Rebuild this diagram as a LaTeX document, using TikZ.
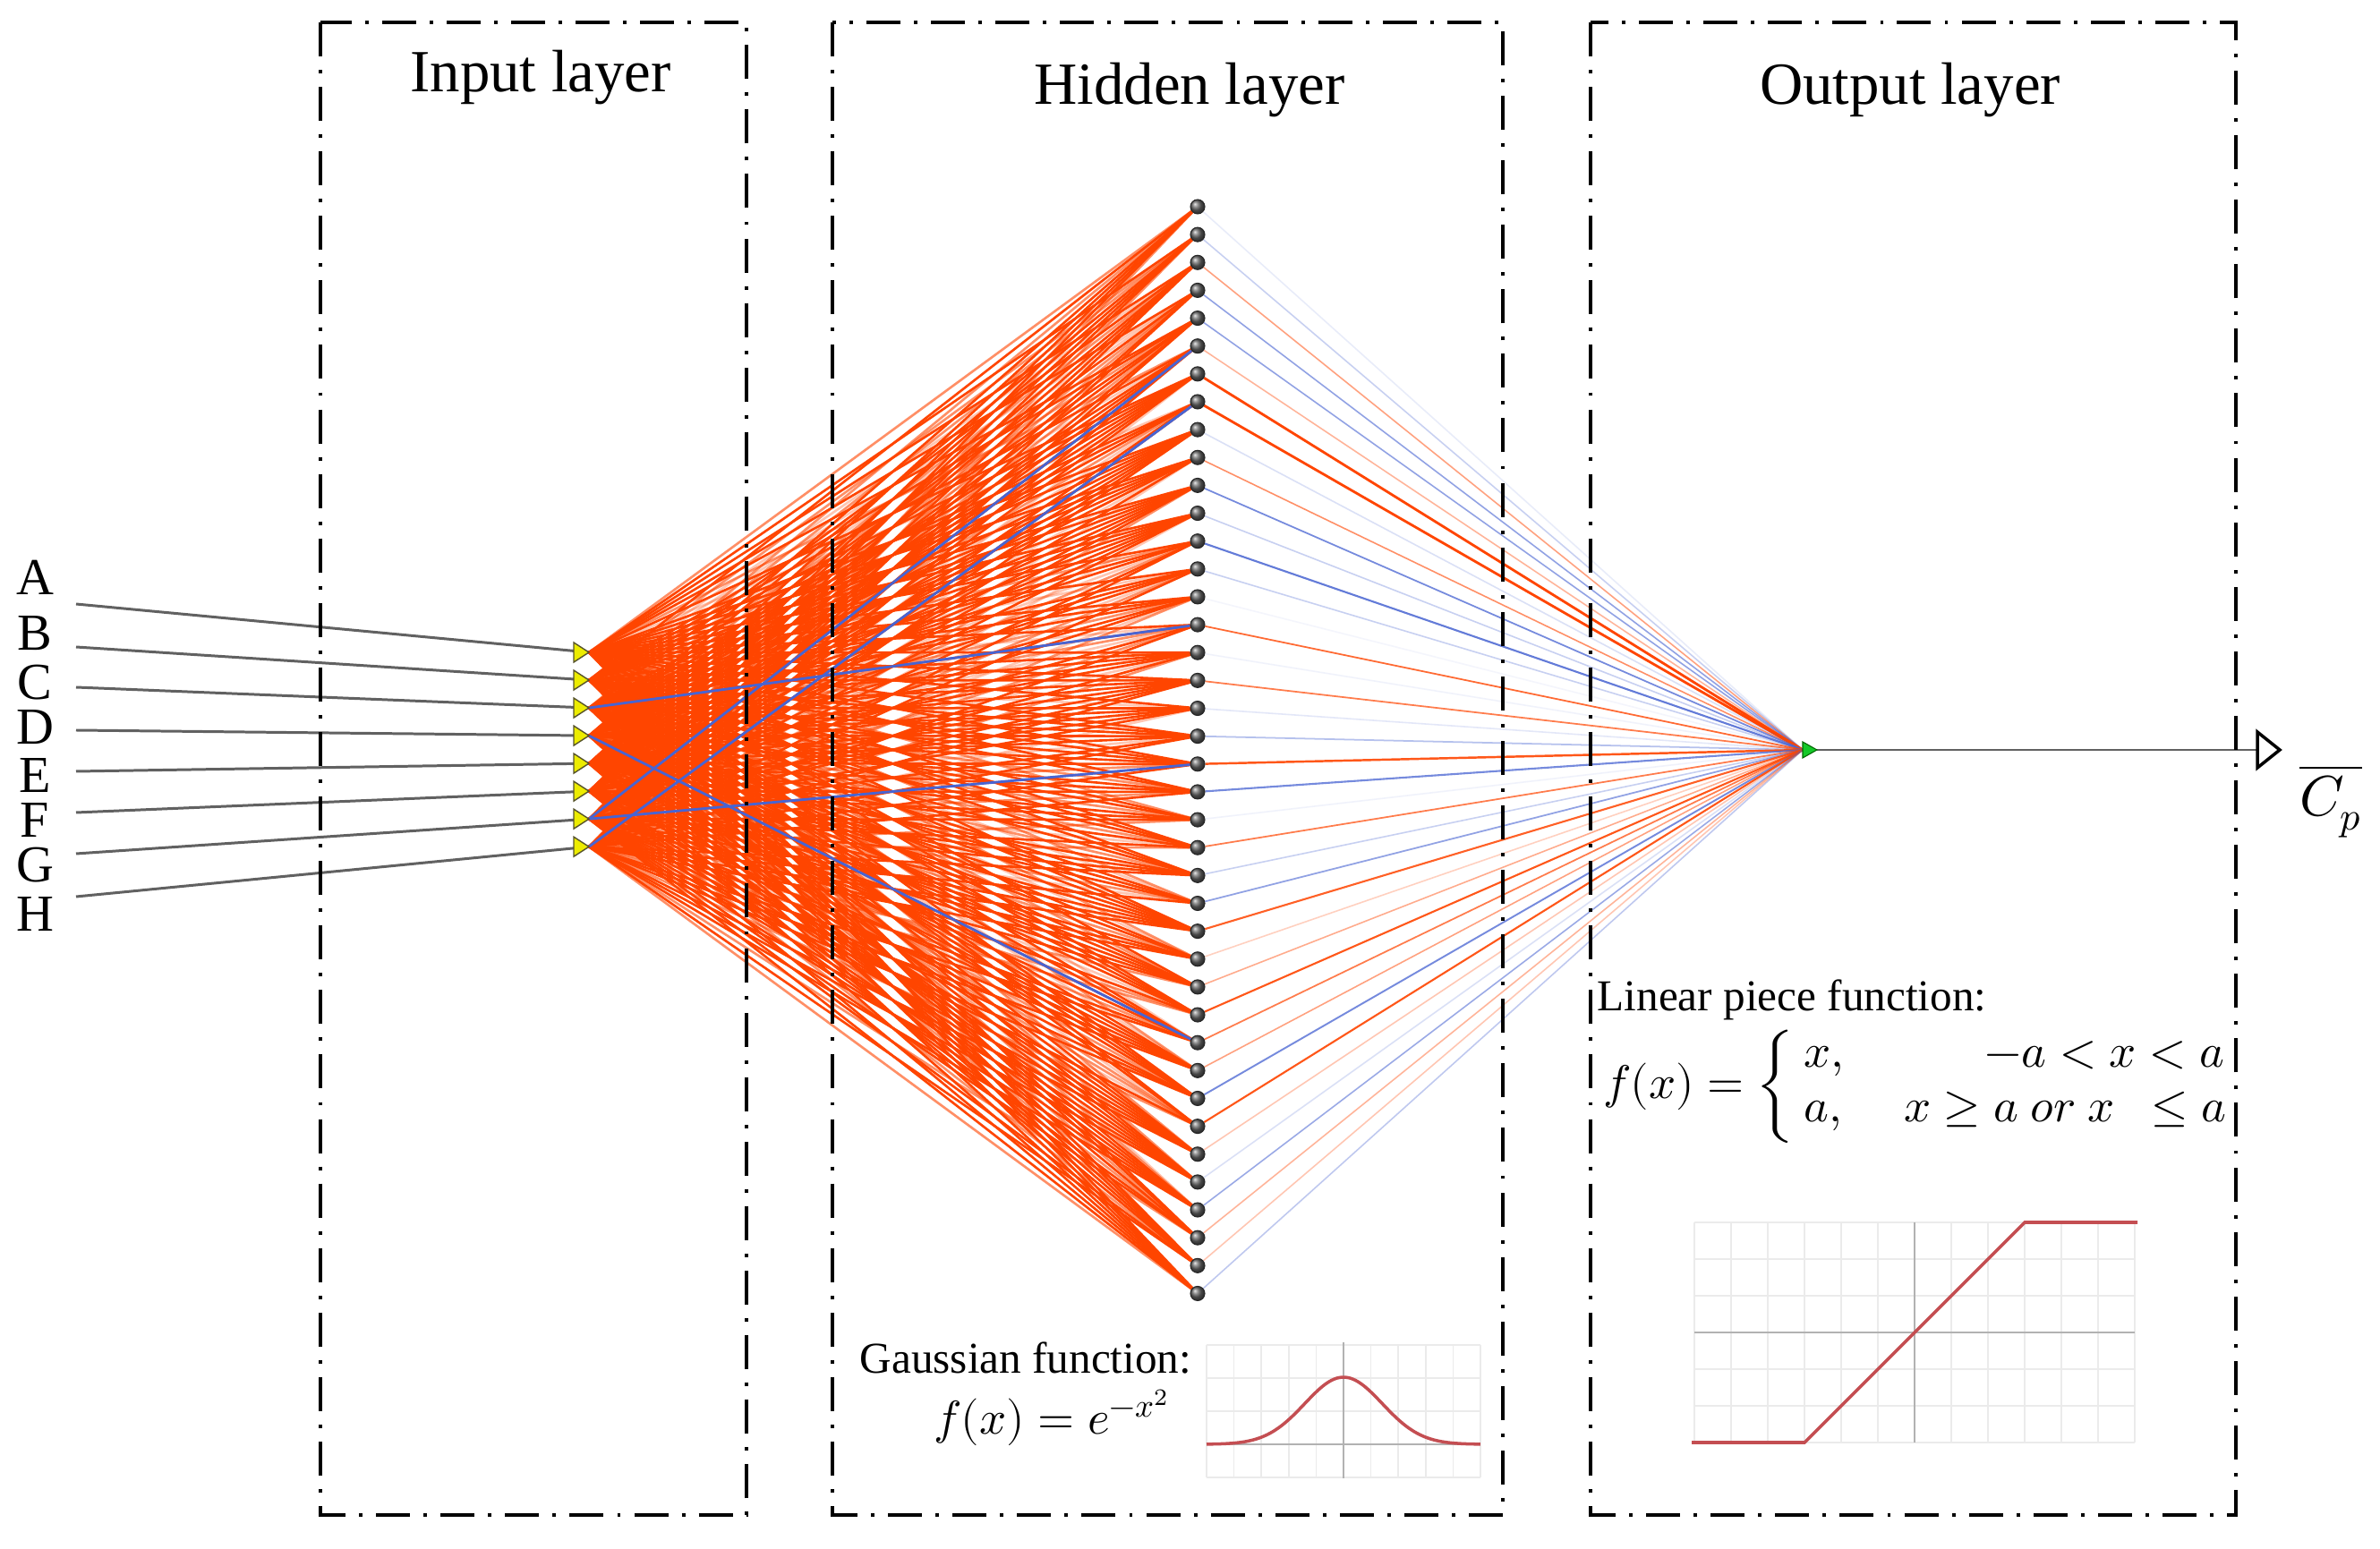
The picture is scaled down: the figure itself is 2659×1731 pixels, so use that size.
\documentclass[tikz,border=0pt]{standalone}
\usepackage{fontspec}
\usepackage{unicode-math}
\setmainfont{Liberation Serif}
\setmathfont{Latin Modern Math}
\pgfdeclarelayer{back}
\pgfdeclarelayer{bg}
\pgfsetlayers{back,bg,main}
\definecolor{nnorange}{RGB}{255,69,0}
\definecolor{nnblue}{RGB}{72,100,210}
\definecolor{curvered}{RGB}{196,78,82}
\definecolor{inyellow}{RGB}{236,236,0}
\definecolor{outgreen}{RGB}{20,200,40}
\newcommand\setfs[2]{\fontsize{#1}{#2}\selectfont}
\tikzset{
 layerbox/.style={line width=1pt, dash pattern=on 10.8pt off 4.3pt on 1.1pt off 4.3pt},
 inwire/.style={draw=black!62, line width=0.85pt},
 ih/.style={draw=nnorange, line width=0.75pt},
 ihblue/.style={draw=nnblue, line width=0.8pt},
 ho/.style={line width=0.45pt},
 hid/.style={circle, inner sep=0pt, minimum size=0.16cm, ball color=black!60, draw=black!85, line width=0.3pt},
 intri/.style={fill=inyellow, draw=black!50!olive, line width=0.4pt},
 outtri/.style={fill=outgreen, draw=green!40!black, line width=0.3pt},
 title/.style={font=\setfs{19}{23}, anchor=base},
 inlabel/.style={font=\setfs{16.5}{20}, inner sep=0pt},
 note/.style={font=\setfs{14}{17}, inner sep=0pt},
 mathtxt/.style={font=\setfs{15}{18}, inner sep=0pt},
 gridln/.style={draw=black!8, line width=0.5pt},
 axisln/.style={draw=black!30, line width=0.8pt},
 fcurve/.style={draw=curvered, line width=1pt},
}
\begin{document}
\begin{tikzpicture}[x=0.01cm,y=-0.01cm]
\useasboundingbox (0,0) rectangle (2659,1731);
\begin{pgfonlayer}{back}
\fill[white] (0,0) rectangle (2659,1731);
\end{pgfonlayer}

% layer boxes
\draw[layerbox] (358,25) rectangle (834,1693);
\draw[layerbox] (930,25) rectangle (1679,1693);
\draw[layerbox] (1777,25) rectangle (2498,1693);

% titles
\node[title] (tin) at (604,103) {Input layer};
\node[title] (thid) at (1329,117) {Hidden layer};
\node[title] (tout) at (2134,117) {Output layer};

% inputs
\foreach \k/\lab/\ly/\sy in {0/A/645/675,1/B/708/723,2/C/763/768,3/D/813/816,4/E/867/862,5/F/917/908,6/G/967/954,7/H/1022/1002}{
  \coordinate (i\k) at (658,{729+31.03*\k});
  \coordinate (s\k) at (85,\sy);
  \node[inlabel] (lab\k) at (39,\ly) {\lab};
}
% hidden nodes
\foreach \j in {0,...,39}{
  \node[hid] (h\j) at (1338,{231+31.14*\j}) {};
}
% output
\coordinate (out) at (2014,838);
\coordinate (outr) at (2030,838);
\coordinate (outend) at (2522,838);

% connections
\begin{pgfonlayer}{bg}
\foreach \k in {0,...,7}{\draw[inwire] (s\k) -- (i\k);}
\pgfmathsetseed{7}
\foreach \k in {0,...,7}{
  \foreach \j in {0,...,39}{
    \pgfmathsetmacro\r{rnd}
    \pgfmathsetmacro\op{\r<0.76?1:(\r<0.9?0.6:0.3)}
    \draw[ih, draw opacity=\op] (i\k) -- (h\j);
  }
}
\foreach \k/\j in {6/5,7/7,2/15,6/20,3/30}{\draw[ihblue] (i\k) -- (h\j);}
\foreach \j/\c/\o/\w in {0/nnblue/0.12/0.45pt,1/nnblue/0.3/0.45pt,2/nnorange/0.5/0.45pt,3/nnblue/0.6/0.45pt,4/nnblue/0.6/0.45pt,5/nnorange/0.4/0.45pt,6/nnorange/1/0.8pt,7/nnorange/1/0.8pt,8/nnblue/0.2/0.45pt,9/nnorange/0.6/0.45pt,10/nnblue/0.75/0.5pt,11/nnblue/0.3/0.45pt,12/nnblue/0.85/0.6pt,13/nnblue/0.3/0.45pt,14/nnblue/0.06/0.45pt,15/nnorange/0.8/0.5pt,16/nnblue/0.08/0.45pt,17/nnorange/0.7/0.5pt,18/nnblue/0.15/0.45pt,19/nnblue/0.4/0.5pt,20/nnorange/0.9/0.7pt,21/nnblue/0.75/0.6pt,22/nnblue/0.08/0.45pt,23/nnorange/0.7/0.5pt,24/nnblue/0.3/0.45pt,25/nnblue/0.6/0.5pt,26/nnorange/0.85/0.6pt,27/nnorange/0.25/0.45pt,28/nnorange/0.45/0.45pt,29/nnorange/0.9/0.6pt,30/nnorange/0.7/0.5pt,31/nnorange/0.5/0.45pt,32/nnblue/0.75/0.55pt,33/nnorange/0.9/0.6pt,34/nnorange/0.3/0.45pt,35/nnblue/0.2/0.45pt,36/nnblue/0.55/0.45pt,37/nnorange/0.4/0.45pt,38/nnorange/0.3/0.45pt,39/nnblue/0.35/0.45pt}{
  \draw[ho, draw=\c, draw opacity=\o, line width=\w] (h\j) -- (out);
}
\draw[inwire] (outr) -- (outend);
\end{pgfonlayer}

% input triangles
\foreach \k in {0,...,7}{\filldraw[intri] (i\k) -- ++(-17,-11) -- ++(0,22) -- cycle;}
% output triangle and arrow
\filldraw[outtri] (out) -- ++(0,-9) -- ++(16,9) -- ++(-16,9) -- cycle;
\filldraw[draw=black, fill=white, line width=1pt, line join=miter] (outend) -- ++(0,-20) -- ++(25,20) -- ++(-25,20) -- cycle;
\node[font=\setfs{18}{21}] (cp) at (2604,895) {$\overline{C_p}$};

% Gaussian plot
\foreach \k in {0,...,10}{\draw[gridln] ({1348+30.6*\k},1503) -- ({1348+30.6*\k},1651);}
\foreach \k in {0,...,4}{\draw[gridln] (1348,{1503+37*\k}) -- (1654,{1503+37*\k});}
\draw[axisln] (1501,1500) -- (1501,1652);
\draw[axisln] (1348,1614) -- (1654,1614);
\draw[fcurve] plot[domain=-2.5:2.5,samples=100,smooth] ({1501+61.2*\x},{1614-75*exp(0-\x*\x)});
\node[note, anchor=west] (gtxt) at (960,1518) {Gaussian function:};
\node[mathtxt, anchor=base east] (gf) at (1309,1603) {$f(x)=e^{-x^2}$};

% Linear piece plot
\foreach \k in {0,...,12}{\draw[gridln] ({1893+41*\k},1366) -- ({1893+41*\k},1612);}
\foreach \k in {0,...,6}{\draw[gridln] (1893,{1366+41*\k}) -- (2385,{1366+41*\k});}
\draw[axisln] (2139,1366) -- (2139,1612);
\draw[axisln] (1893,1489) -- (2385,1489);
\draw[fcurve] (1890,1612) -- (2016,1612) -- (2262,1366) -- (2388,1366);
\node[note, anchor=base west] (ltxt) at (1784,1130) {Linear piece function:};
\node[mathtxt, anchor=east] (lf) at (2008,1214) {$f(x)=\left\{\vphantom{\begin{array}{l}x\\a\end{array}}\right.$};
\node[mathtxt, anchor=base west] (r1a) at (2015,1193) {$x,$};
\node[mathtxt, anchor=base east] (r1b) at (2486,1193) {$-a<x<a$};
\node[mathtxt, anchor=base west] (r2a) at (2015,1254) {$a,$};
\node[mathtxt, anchor=base east] (r2b) at (2488,1254) {$x\geq a\ \symit{or}\ x\ \ \leq a$};
\end{tikzpicture}
\end{document}
